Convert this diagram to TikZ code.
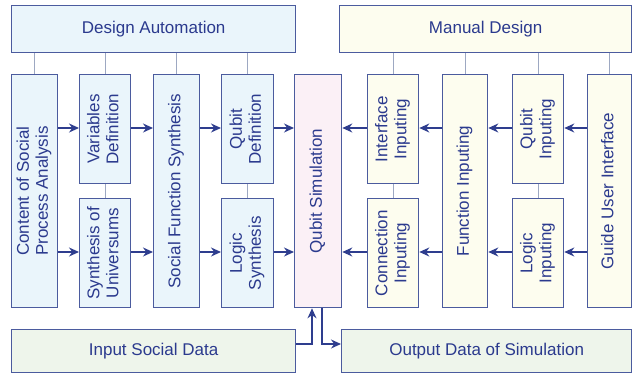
\documentclass[tikz,border=0pt]{standalone}
\usepackage{fontspec}
\setmainfont{Liberation Sans}
\usetikzlibrary{arrows.meta}
\definecolor{bord}{HTML}{4B5B9E}
\definecolor{txt}{HTML}{2B3A8E}
\definecolor{arr}{HTML}{2E3D8E}
\definecolor{gl}{HTML}{9DA8C2}
\definecolor{dafill}{HTML}{EAF5FB}
\definecolor{mdfill}{HTML}{FDFDEF}
\definecolor{qsfill}{HTML}{FBF0F6}
\definecolor{iofill}{HTML}{EEF5EB}
\newcommand{\rt}[1]{\rotatebox{90}{\begin{tabular}{@{}c@{}}#1\end{tabular}}}
\begin{document}
\begin{tikzpicture}[x=1pt,y=-1pt,
  box/.style={draw=bord,line width=1.3pt,anchor=north west,inner sep=0pt,
    text=txt,font=\fontsize{17}{19}\selectfont,align=center},
  da/.style={box,fill=dafill},
  md/.style={box,fill=mdfill},
  qs/.style={box,fill=qsfill},
  io/.style={box,fill=iofill},
  gline/.style={draw=gl,line width=1.3pt},
  arrline/.style={draw=arr,line width=1.4pt,-{Stealth[length=10pt,width=9pt]}}]
\useasboundingbox (0,0) rectangle (632,375);
% headers
\node[da,minimum width=284pt,minimum height=47pt] (DA) at (11,5) {Design Automation};
\node[md,minimum width=292pt,minimum height=47pt] (MD) at (339,5) {Manual Design};
% left columns
\node[da,minimum width=46pt,minimum height=233pt] (content) at (11,74) {\rt{Content of Social\\Process Analysis}};
\node[da,minimum width=51pt,minimum height=109pt] (vardef) at (79,74) {\rt{Variables\\Definition}};
\node[da,minimum width=51pt,minimum height=109pt] (synuni) at (79,198) {\rt{Synthesis of\\Universums}};
\node[da,minimum width=46pt,minimum height=233pt] (sfs) at (153,74) {\rt{Social Function Synthesis}};
\node[da,minimum width=52pt,minimum height=109pt] (qdef) at (221,74) {\rt{Qubit\\Definition}};
\node[da,minimum width=52pt,minimum height=109pt] (logsyn) at (221,198) {\rt{Logic\\Synthesis}};
% center
\node[qs,minimum width=47pt,minimum height=233pt] (qsim) at (294,74) {\rt{Qubit Simulation}};
% right columns
\node[md,minimum width=51pt,minimum height=109pt] (iface) at (367,74) {\rt{Interface\\Inputing}};
\node[md,minimum width=51pt,minimum height=109pt] (conn) at (367,198) {\rt{Connection\\Inputing}};
\node[md,minimum width=45pt,minimum height=233pt] (funcinp) at (442,74) {\rt{Function Inputing}};
\node[md,minimum width=51pt,minimum height=109pt] (qinp) at (512,74) {\rt{Qubit\\Inputing}};
\node[md,minimum width=51pt,minimum height=109pt] (loginp) at (512,198) {\rt{Logic\\Inputing}};
\node[md,minimum width=44pt,minimum height=233pt] (gui) at (587,74) {\rt{Guide User Interface}};
% bottom
\node[io,minimum width=284pt,minimum height=43pt] (inp) at (11,329) {Input Social Data};
\node[io,minimum width=290pt,minimum height=43pt] (outp) at (341,329) {Output Data of Simulation};
% row coordinates
\coordinate (r1) at (0,128);
\coordinate (r2) at (0,252);
\coordinate (r3) at (0,344);
\coordinate (cin) at (312,0);
\coordinate (cout) at (322,0);
% gray header lines
\draw[gline] (DA.south -| content.north) -- (content.north);
\draw[gline] (DA.south -| vardef.north) -- (vardef.north);
\draw[gline] (DA.south -| sfs.north) -- (sfs.north);
\draw[gline] (DA.south -| qdef.north) -- (qdef.north);
\draw[gline] (MD.south -| iface.north) -- (iface.north);
\draw[gline] (MD.south -| funcinp.north) -- (funcinp.north);
\draw[gline] (MD.south -| qinp.north) -- (qinp.north);
\draw[gline] (MD.south -| gui.north) -- (gui.north);
\draw[gline] (vardef.south) -- (synuni.north);
\draw[gline] (qdef.south) -- (logsyn.north);
\draw[gline] (iface.south) -- (conn.north);
\draw[gline] (qinp.south) -- (loginp.north);
% arrows left
\draw[arrline] (content.east |- r1) -- (vardef.west |- r1);
\draw[arrline] (vardef.east |- r1) -- (sfs.west |- r1);
\draw[arrline] (sfs.east |- r1) -- (qdef.west |- r1);
\draw[arrline] (qdef.east |- r1) -- (qsim.west |- r1);
\draw[arrline] (content.east |- r2) -- (synuni.west |- r2);
\draw[arrline] (synuni.east |- r2) -- (sfs.west |- r2);
\draw[arrline] (sfs.east |- r2) -- (logsyn.west |- r2);
\draw[arrline] (logsyn.east |- r2) -- (qsim.west |- r2);
% arrows right
\draw[arrline] (gui.west |- r1) -- (qinp.east |- r1);
\draw[arrline] (qinp.west |- r1) -- (funcinp.east |- r1);
\draw[arrline] (funcinp.west |- r1) -- (iface.east |- r1);
\draw[arrline] (iface.west |- r1) -- (qsim.east |- r1);
\draw[arrline] (gui.west |- r2) -- (loginp.east |- r2);
\draw[arrline] (loginp.west |- r2) -- (funcinp.east |- r2);
\draw[arrline] (funcinp.west |- r2) -- (conn.east |- r2);
\draw[arrline] (conn.west |- r2) -- (qsim.east |- r2);
% bottom arrows
\draw[arrline] (inp.east |- r3) -- (cin |- r3) -- (cin |- qsim.south);
\draw[arrline] (cout |- qsim.south) -- (cout |- r3) -- (outp.west |- r3);
\end{tikzpicture}
\end{document}
